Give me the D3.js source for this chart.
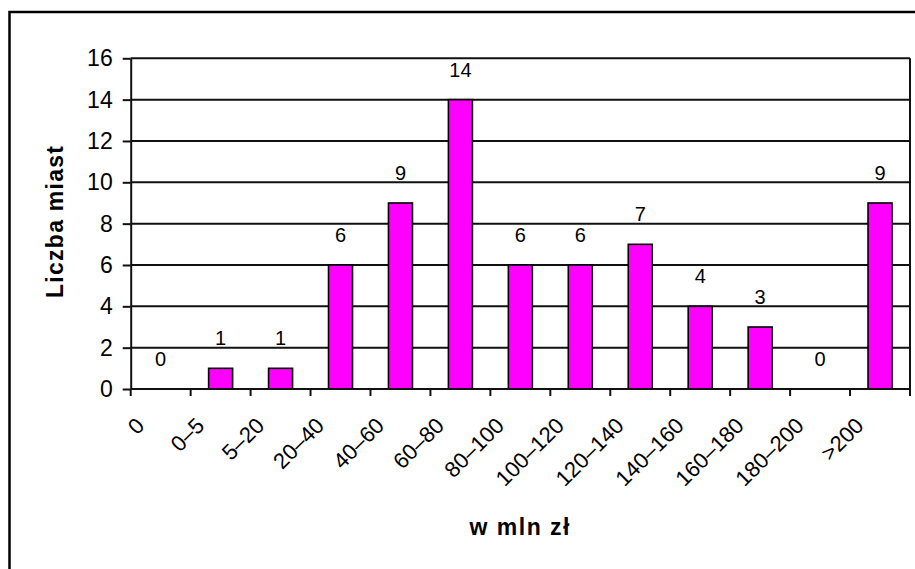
<!DOCTYPE html>
<html>
<head>
<meta charset="utf-8">
<script src="https://cdn.jsdelivr.net/npm/d3@7"></script>
<style>
  html, body { margin: 0; padding: 0; background: #fff; }
  svg { display: block; font-family: "Liberation Sans", Arial, sans-serif; }
</style>
</head>
<body>
<svg id="chart" width="915" height="569"></svg>
<script>
// Number of cities by amount (w mln zł)
const categories = ["0", "0–5", "5–20", "20–40", "40–60", "60–80", "80–100",
  "100–120", "120–140", "140–160", "160–180", "180–200", ">200"];
const cityCounts = [0, 1, 1, 6, 9, 14, 6, 6, 7, 4, 3, 0, 9];
const yTicks = [0, 2, 4, 6, 8, 10, 12, 14, 16];
const yTitle = "Liczba miast";
const xTitle = "w mln zł";

const svg = d3.select("#chart");
const plot = { left: 130.7, right: 910, top: 58.3, bottom: 389 };

// outer chart frame (runs past the bottom/right edge of the view)
svg.append("rect")
  .attr("x", 9.5).attr("y", 12)
  .attr("width", 940).attr("height", 600)
  .attr("fill", "#fff").attr("stroke", "#000").attr("stroke-width", 2.5);

const x = d3.scaleBand().domain(categories)
  .range([plot.left, plot.right]).padding(0);
const xBar = d3.scaleBand().domain(categories)
  .range([plot.left, plot.right]).paddingInner(0.6).paddingOuter(0.3);
const y = d3.scaleLinear().domain([0, 16]).range([plot.bottom, plot.top]);

// gridlines
svg.append("g").selectAll("line").data(yTicks.filter(d => d > 0)).join("line")
  .attr("x1", plot.left).attr("x2", plot.right)
  .attr("y1", d => y(d)).attr("y2", d => y(d))
  .attr("stroke", "#111").attr("stroke-width", 2);

// right edge of plot area
svg.append("line")
  .attr("x1", plot.right).attr("x2", plot.right)
  .attr("y1", y(16)).attr("y2", plot.bottom)
  .attr("stroke", "#111").attr("stroke-width", 2);

// bars
svg.append("g").selectAll("rect").data(categories).join("rect")
  .attr("x", d => xBar(d))
  .attr("width", xBar.bandwidth())
  .attr("y", (d, i) => y(cityCounts[i]))
  .attr("height", (d, i) => y(0) - y(cityCounts[i]))
  .attr("fill", "#ff00ff")
  .attr("stroke", "#000").attr("stroke-width", 1.6)
  .attr("display", (d, i) => cityCounts[i] > 0 ? null : "none");

// value labels
svg.append("g").selectAll("text").data(categories).join("text")
  .attr("x", d => x(d) + x.bandwidth() / 2)
  .attr("y", (d, i) => y(cityCounts[i]) - 23)
  .attr("text-anchor", "middle")
  .attr("font-size", 20)
  .attr("fill", "#000")
  .text((d, i) => cityCounts[i]);

// y axis
const yAxis = svg.append("g")
  .attr("transform", `translate(${plot.left},0)`)
  .call(d3.axisLeft(y).tickValues(yTicks).tickSize(8).tickPadding(10).tickSizeOuter(0));
yAxis.select(".domain").attr("stroke", "#111").attr("stroke-width", 2);
yAxis.selectAll(".tick line").attr("stroke", "#111").attr("stroke-width", 2);
yAxis.selectAll(".tick text").attr("font-size", 23)
  .attr("font-family", "Liberation Sans, Arial, sans-serif").attr("fill", "#000");

// x axis line and boundary ticks
svg.append("line")
  .attr("x1", plot.left).attr("x2", plot.right)
  .attr("y1", plot.bottom).attr("y2", plot.bottom)
  .attr("stroke", "#111").attr("stroke-width", 2);
const bounds = categories.map(d => x(d)).concat([plot.right]);
svg.append("g").selectAll("line").data(bounds).join("line")
  .attr("x1", d => d).attr("x2", d => d)
  .attr("y1", plot.bottom).attr("y2", plot.bottom + 7)
  .attr("stroke", "#111").attr("stroke-width", 2);

// rotated category labels
svg.append("g").selectAll("text").data(categories).join("text")
  .attr("transform", d => `translate(${x(d) + x.bandwidth() / 2 - 15},${plot.bottom + 38}) rotate(-45)`)
  .attr("text-anchor", "end")
  .attr("font-size", 22)
  .attr("fill", "#000")
  .text(d => d);

// axis titles
svg.append("text")
  .attr("transform", "translate(63,222) rotate(-90)")
  .attr("text-anchor", "middle")
  .attr("font-size", 23).attr("font-weight", "bold")
  .attr("textLength", 152).attr("lengthAdjust", "spacing")
  .text(yTitle);

svg.append("text")
  .attr("x", 519.5).attr("y", 535)
  .attr("text-anchor", "middle")
  .attr("font-size", 23).attr("font-weight", "bold")
  .attr("textLength", 100).attr("lengthAdjust", "spacing")
  .text(xTitle);
</script>
</body>
</html>
